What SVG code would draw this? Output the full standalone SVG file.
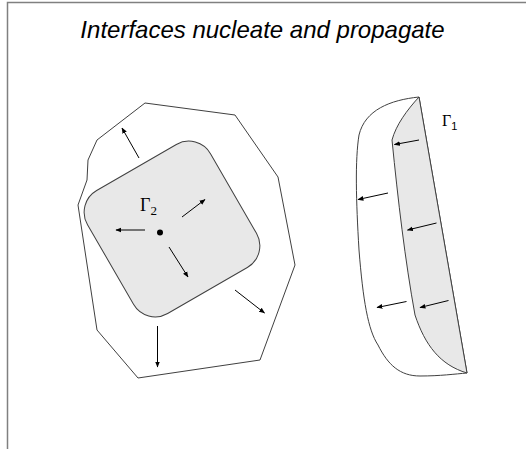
<svg xmlns="http://www.w3.org/2000/svg" width="526" height="449" viewBox="0 0 526 449">
<defs>
<marker id="ah" viewBox="0 0 10 10" refX="9" refY="5" markerWidth="6" markerHeight="6" markerUnits="userSpaceOnUse" orient="auto">
<path d="M0,1 L10,5 L0,9 z" fill="#000"/>
</marker>
<style>
.shape{stroke:#404040;stroke-width:1;stroke-linejoin:round}
.arr{stroke:#000;stroke-width:1;fill:none;marker-end:url(#ah)}
.lbl{font-family:"Liberation Serif","Times New Roman",serif;fill:#000}
</style>
</defs>
<rect x="0" y="0" width="526" height="449" fill="#fff"/>
<path d="M7.5,449 V2.5 H526" fill="none" stroke="#808080" stroke-width="1.5"/>
<text x="262.5" y="38" text-anchor="middle" font-family="Liberation Sans, Arial, sans-serif" font-style="italic" font-size="24" fill="#000">Interfaces nucleate and propagate</text>

<g id="grain2">
<polygon class="shape" fill="#fff" points="145,103 235,115 278,177 295,265 260,360 138,378 97,330 78,205 87,180 88,160 97,140"/>
<rect class="shape" fill="#e8e8e8" x="101" y="158" width="142" height="142" rx="25" ry="25" transform="rotate(-30 172 229)"/>
<circle cx="160" cy="232.5" r="3" fill="#000"/>
<text class="lbl" x="140" y="211" font-size="18">Γ<tspan font-size="13" dy="4">2</tspan></text>
</g>

<g id="grain1">
<path class="shape" fill="#fff" d="M419,97 C390,100 365,110 359,135 C355,160 356,200 359,250 C363,300 368,330 378,345 C388,365 400,376 420,376 C440,376 455,374 467,373 Z"/>
<path class="shape" fill="#e8e8e8" d="M419,97 C407,110 396,125 392,140 C398,200 405,260 415,315 C425,345 440,365 467,373 Z"/>
<text class="lbl" x="442" y="126" font-size="16">Γ<tspan font-family="Liberation Sans, Arial, sans-serif" font-size="11" dy="4">1</tspan></text>
</g>

<g id="connectors">
<line class="arr" x1="139" y1="158" x2="122" y2="128"/>
<line class="arr" x1="182" y1="217" x2="205" y2="199.5"/>
<line class="arr" x1="145" y1="230" x2="116" y2="230"/>
<line class="arr" x1="169" y1="247" x2="188" y2="277"/>
<line class="arr" x1="235" y1="290" x2="264.5" y2="313"/>
<line class="arr" x1="157.5" y1="326" x2="157.5" y2="367"/>
<line class="arr" x1="419" y1="140" x2="394.5" y2="144.5"/>
<line class="arr" x1="388" y1="193" x2="358" y2="199.5"/>
<line class="arr" x1="436.5" y1="223" x2="407.5" y2="230"/>
<line class="arr" x1="406.5" y1="301.5" x2="377" y2="307.5"/>
<line class="arr" x1="448.5" y1="300.5" x2="420" y2="307.5"/>
</g>
</svg>
